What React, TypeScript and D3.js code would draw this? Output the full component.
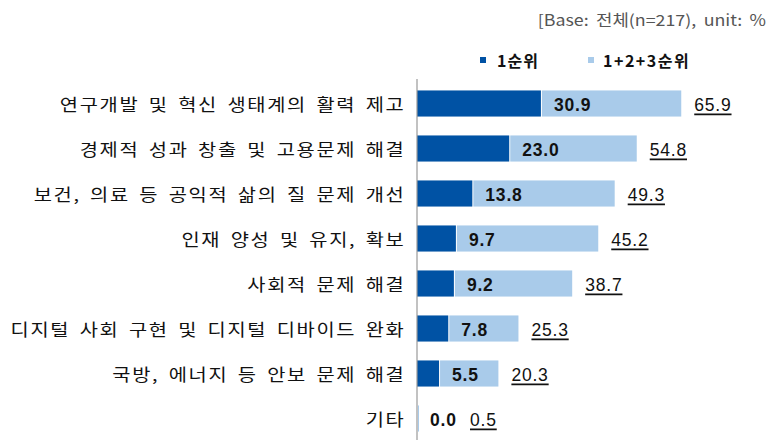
import React from "react";
import * as d3 from "d3";

const categories = [
  "연구개발 및 혁신 생태계의 활력 제고",
  "경제적 성과 창출 및 고용문제 해결",
  "보건, 의료 등 공익적 삶의 질 문제 개선",
  "인재 양성 및 유지, 확보",
  "사회적 문제 해결",
  "디지털 사회 구현 및 디지털 디바이드 완화",
  "국방, 에너지 등 안보 문제 해결",
  "기타",
];
const firstRank = [30.9, 23.0, 13.8, 9.7, 9.2, 7.8, 5.5, 0.0];
const top3Rank = [65.9, 54.8, 49.3, 45.2, 38.7, 25.3, 20.3, 0.5];
const seriesNames = ["1순위", "1+2+3순위"];
const note = "[Base: 전체(n=217), unit: %";

const DARK = "#0052a4";
const LIGHT = "#a9cbea";
const KR = "'Noto Sans CJK KR', 'Noto Sans', sans-serif";
const NUM = "'Liberation Sans', Arial, sans-serif";

export default function App() {
  const W = 782;
  const H = 448;
  const x = d3.scaleLinear().domain([0, 100]).range([417, 818]);
  const y = d3
    .scaleBand<string>()
    .domain(categories)
    .range([81, 441])
    .paddingInner(0.42)
    .paddingOuter(0.21);
  const bw = y.bandwidth();

  return (
    <svg
      width={W}
      height={H}
      style={{ position: "absolute", left: 0, top: 0, background: "#fff" }}
    >
      <text
        transform="translate(766,26) scale(1.15,1)"
        textAnchor="end"
        fontFamily={KR}
        fontSize={15.5}
        fill="#555"
        style={{ wordSpacing: "3px" }}
      >
        {note}
      </text>

      {/* legend */}
      <g fontFamily={KR} fontWeight="bold" fontSize={16} fill="#111">
        <rect x={480} y={57} width={6} height={6} fill={DARK} />
        <text x={497} y={60} dominantBaseline="central" style={{ letterSpacing: "1px" }}>
          {seriesNames[0]}
        </text>
        <rect x={588} y={57} width={6} height={6} fill={LIGHT} />
        <text x={603} y={60} dominantBaseline="central" style={{ letterSpacing: "1.5px" }}>
          {seriesNames[1]}
        </text>
      </g>

      {categories.map((c, i) => {
        const yc = (y(c) as number) + bw / 2;
        const x0 = x(0);
        const x1 = x(firstRank[i]);
        const x2 = x(top3Rank[i]);
        const innerX = x1 + 13;
        const totalX = Math.max(x2 + 13, innerX + 40);
        return (
          <g key={c}>
            <text
              transform={`translate(405.5,${yc}) scale(1.2,1)`}
              textAnchor="end"
              dominantBaseline="central"
              fontFamily={KR}
              fontSize={16.5}
              fill="#111"
              style={{ letterSpacing: "1.4px", wordSpacing: "2.8px" }}
            >
              {c}
            </text>
            {x2 > x1 && (
              <rect x={x1 + 1} y={y(c)} width={Math.max(0, x2 - x1 - 1)} height={bw} fill={LIGHT} />
            )}
            {x1 > x0 && <rect x={x0} y={y(c)} width={x1 - x0} height={bw} fill={DARK} />}
            <text
              x={innerX}
              y={yc + 1}
              dominantBaseline="central"
              fontFamily={NUM}
              fontWeight="bold"
              fontSize={17.5}
              fill="#111"
              style={{ letterSpacing: "0.8px" }}
            >
              {firstRank[i].toFixed(1)}
            </text>
            <text
              x={totalX}
              y={yc + 1}
              dominantBaseline="central"
              fontFamily={NUM}
              fontSize={17.5}
              fill="#111"
              textDecoration="underline"
              style={{ letterSpacing: "0.8px", textDecoration: "underline" }}
            >
              {top3Rank[i].toFixed(1)}
            </text>
          </g>
        );
      })}

      <line x1={x(0)} x2={x(0)} y1={79} y2={440} stroke="#999" strokeWidth={1.2} />
    </svg>
  );
}
